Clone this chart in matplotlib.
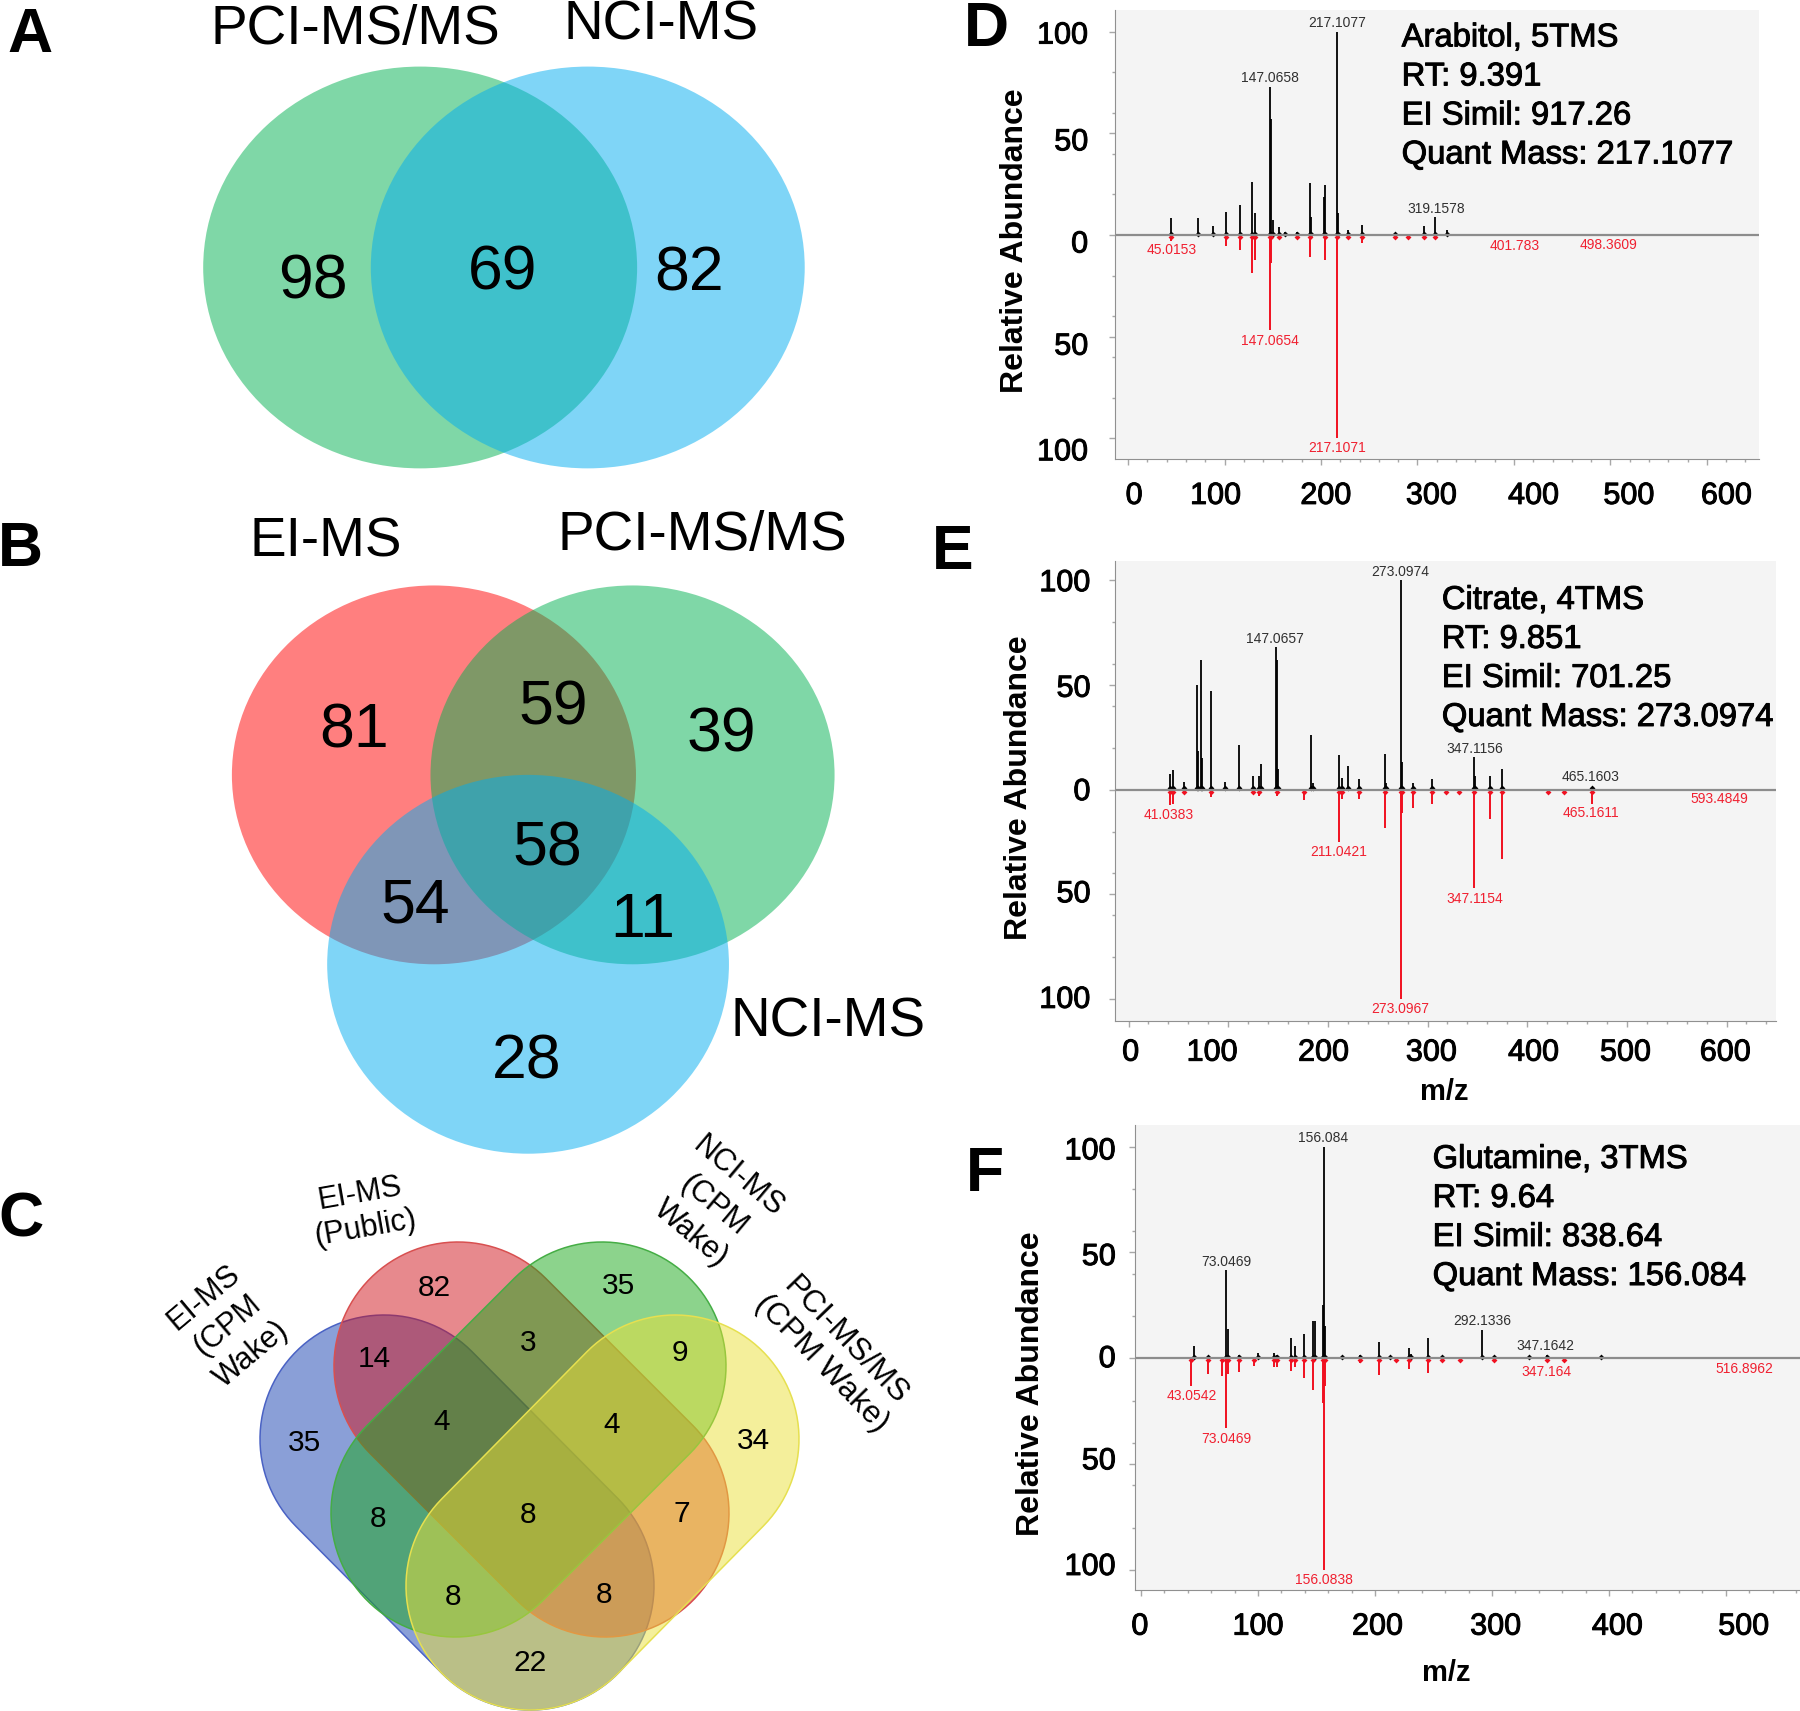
import numpy as np
import matplotlib
matplotlib.use('Agg')
import matplotlib.pyplot as plt
import matplotlib.patheffects as pe
from matplotlib.patches import Ellipse, Polygon

plt.rcParams['font.family'] = ['Liberation Sans', 'DejaVu Sans']

# venn counts
a_counts = ['98', '69', '82']
b_counts = ['81', '59', '39', '58', '54', '11', '28']
c_counts = ['82', '35', '14', '3', '9', '35', '4', '4', '34', '8', '8', '7', '8', '8', '22']

# spectra (m/z and relative abundance)
d_black_mz = [45, 73, 88, 101.5, 116, 128, 132, 147, 148, 150, 157, 163, 175, 189, 190, 203, 204, 217, 218, 227.5, 242.6, 276.6, 306.7, 318.5, 331]
d_black_h = [8.2, 8.2, 4.4, 11.5, 15, 26, 10.7, 73, 57, 7.4, 3.8, 1.6, 1.6, 25.4, 9, 18.9, 24.6, 100, 10.7, 2.5, 4.8, 1.1, 4.6, 9, 2.5]
d_red_mz = [45, 101.5, 116, 128, 132, 147, 148, 157, 175, 189, 204, 217, 227.5, 242.6, 276.6, 290.6, 306.7, 318.5]
d_red_h = [2.8, 5.4, 7.6, 18.9, 12.3, 46.7, 13.9, 1.6, 1.1, 11, 12.3, 100, 0.8, 4, 1.8, 0.8, 0.8, 0.8]
d_black_labels = ['217.1077', '147.0658', '319.1578']
d_black_label_x = [217, 147, 319]
d_black_label_y = [104.4, 77, 13]
d_red_labels = ['45.0153', '147.0654', '217.1071', '401.783', '498.3609']
d_red_label_x = [45, 147, 217, 400.4, 498]
d_red_label_y = [-7.4, -52, -105, -5.2, -4.9]

e_black_mz = [42, 45, 56, 69, 70, 73, 74, 83, 97, 111, 125, 131, 133, 147.6, 148.6, 150, 183, 185, 211, 214.6, 220.5, 231, 257, 258, 273, 274, 285, 304, 346.5, 348, 363, 374.6, 465.4]
e_black_h = [7.3, 9.6, 3.8, 50, 18.6, 62, 15, 47, 3.8, 21.6, 6.4, 6.4, 12.5, 68, 62, 10, 26, 3, 16.5, 5.6, 11.3, 5.2, 17, 3, 100, 13.4, 3, 5.2, 15.6, 6.4, 6.4, 10, 1.2]
e_red_mz = [42, 45, 56, 83, 125, 131, 148.6, 175.7, 211, 214.6, 231, 257, 273, 274, 285, 304, 319, 332, 346.5, 363, 374.6, 420.5, 437, 465.4]
e_red_h = [7.5, 6.6, 0.5, 3.6, 1.9, 3, 2.8, 4.9, 24.9, 4.3, 4.3, 18.4, 100, 11, 8.9, 6.6, 1.4, 1.9, 47, 14, 33, 0.9, 0.9, 6.6]
e_black_labels = ['273.0974', '147.0657', '347.1156', '465.1603']
e_black_label_x = [273, 147, 347, 464]
e_black_label_y = [104.2, 72.2, 19.7, 5.9]
e_red_labels = ['41.0383', '211.0421', '347.1154', '273.0967', '465.1611', '593.4849']
e_red_label_x = [40.5, 211, 347, 273, 464, 593]
e_red_label_y = [-12.3, -29.6, -52, -104.9, -11.3, -4.5]

f_black_mz = [45, 57, 73, 74.6, 84, 100, 114, 116, 128.5, 132, 139, 147, 149, 155.6, 156, 157.5, 172, 187, 203.5, 212.7, 229, 231, 245, 257, 291.4, 301.6, 332, 347, 393]
f_black_h = [6, 0.5, 41.6, 13.8, 1.4, 2.4, 2.4, 1.5, 9.6, 6, 11.4, 17.7, 17.7, 25, 100, 15, 1, 1.4, 7.8, 1, 5, 1.8, 9.6, 0.5, 13.2, 1, 1, 1.4, 1]
f_red_mz = [43, 57, 69, 73, 74.6, 84, 96.7, 114, 116, 128.5, 132, 139, 147, 155.6, 156, 157.5, 187, 203.5, 218, 229, 245, 257, 272.6, 301.6, 347, 362]
f_red_h = [13, 7.6, 8.5, 33, 7.6, 6.7, 3.6, 4, 4, 5.8, 4, 9.4, 15.2, 21, 100, 13, 2.2, 8, 1.8, 4.9, 7.2, 0.7, 1.3, 1.6, 1.3, 0.7]
f_black_labels = ['156.084', '73.0469', '292.1336', '347.1642']
f_black_label_x = [156, 73, 292, 346]
f_black_label_y = [104.2, 45.4, 17.4, 6]
f_red_labels = ['43.0542', '73.0469', '347.164', '156.0838', '516.8962']
f_red_label_x = [43, 73, 347, 156, 515.7]
f_red_label_y = [-17.9, -38, -6.5, -104.8, -4.9]

W, H = 1800, 1711
S = 1800 / 1568  # the positions below were read on the shrunk picture
HEAVY = [pe.withStroke(linewidth=0.7, foreground='black')]

fig = plt.figure(figsize=(W / 100, H / 100), dpi=100, facecolor='white')
ov = fig.add_axes([0, 0, 1, 1], zorder=5)
ov.set_xlim(0, W)
ov.set_ylim(H, 0)
ov.axis('off')


def txt(x, y, s, size, **kw):
    kw.setdefault('ha', 'center')
    kw.setdefault('va', 'center')
    return ov.text(x * S, y * S, s, fontsize=size, **kw)


def circle(cx, cy, rx, ry, color):
    ov.add_patch(Ellipse((cx * S, cy * S), 2 * rx * S, 2 * ry * S, facecolor=color, alpha=0.5, edgecolor='none'))


def capsule(p0, p1, r, color, edge):
    # rounded bar between two circle centres, in full size pixels
    p0 = np.array(p0, float)
    p1 = np.array(p1, float)
    ang = np.arctan2(p1[1] - p0[1], p1[0] - p0[0])
    t0 = np.linspace(ang + np.pi / 2, ang + 3 * np.pi / 2, 60)
    t1 = np.linspace(ang - np.pi / 2, ang + np.pi / 2, 60)
    pts = np.vstack([p0 + r * np.c_[np.cos(t0), np.sin(t0)], p1 + r * np.c_[np.cos(t1), np.sin(t1)]])
    ov.add_patch(Polygon(pts, closed=True, facecolor=color + (0.5,), edgecolor=edge, lw=1.1))


# panel A
circle(366, 233, 189, 175, '#00b150')
circle(512, 233, 189, 175, '#00adf0')
txt(310, 26, 'PCI-MS/MS', 39.5)
txt(576, 22, 'NCI-MS', 39.5)
for s, x, y in zip(a_counts, [273, 438, 600], [246, 238, 239]):
    txt(x, y, s, 45)

# panel B
circle(378, 675, 176, 165, '#ff0000')
circle(551, 675, 176, 165, '#00b150')
circle(460, 840, 175, 165, '#00adf0')
txt(284, 473, 'EI-MS', 39.5)
txt(612, 467, 'PCI-MS/MS', 39.5)
txt(721, 891, 'NCI-MS', 39.5)
for s, x, y in zip(b_counts, [308, 482, 628, 477, 362, 560, 459], [637, 617, 640, 740, 789, 802, 925]):
    txt(x, y, s, 45)

# panel C
capsule((384, 1439), (530, 1586), 124, (0.09, 0.25, 0.69), '#4a62c4')
capsule((458, 1366), (605, 1513), 124, (0.82, 0.08, 0.11), '#d85050')
capsule((602, 1366), (455, 1513), 124, (0.10, 0.66, 0.10), '#45ad45')
capsule((675, 1439), (530, 1586), 124, (0.92, 0.88, 0.22), '#e6e050')
c_x = [378, 539, 326, 460, 592, 265, 385, 533, 656, 329, 460, 594, 395, 526, 462]
c_y = [1122, 1120, 1184, 1170, 1179, 1257, 1239, 1241, 1255, 1323, 1320, 1319, 1391, 1389, 1449]
for s, x, y in zip(c_counts, c_x, c_y):
    txt(x, y, s, 21.5)
txt(198, 1155, 'EI-MS\n(CPM\nWake)', 22, rotation=40, linespacing=1.3)
txt(316, 1055, 'EI-MS\n(Public)', 22, rotation=10, linespacing=1.2)
txt(622, 1050, 'NCI-MS\n(CPM\nWake)', 22, rotation=-40, linespacing=1.3)
txt(726, 1178, 'PCI-MS/MS\n(CPM Wake)', 22.5, rotation=-46, linespacing=1.15)

# panel letters
for s, x, y in zip('ABCDEF', [26, 18, 18, 859, 830, 858], [31, 479, 1063, 26, 481, 1023]):
    txt(x, y, s, 45, fontweight='bold')


def spectrum(rect, xlim, ylim, black, red, black_lab, red_lab):
    left, top, right, bottom = rect
    ax = fig.add_axes([left / W, 1 - bottom / H, (right - left) / W, (bottom - top) / H], facecolor='#f4f4f4')
    ax.set_xlim(*xlim)
    ax.set_ylim(*ylim)
    ax.vlines(black[0], 0, black[1], color='black', lw=1.3)
    ax.vlines(red[0], 0, -np.array(red[1]), color='#f01020', lw=1.4)
    # peaks in the original sit on small blobs at the baseline
    ax.scatter(black[0], np.full(len(black[0]), 0.7), marker='D', s=9, color='black', lw=0)
    ax.scatter(red[0], np.full(len(red[0]), -0.9), marker='D', s=9, color='#f01020', lw=0)
    ax.axhline(0, color='#8c8c8c', lw=1.6)
    for s, x, y in zip(*black_lab):
        ax.text(x, y, s, fontsize=10, color='#303030', ha='center', va='center')
    for s, x, y in zip(*red_lab):
        ax.text(x, y, s, fontsize=10, color='#f02030', ha='center', va='center')
    ax.set_xticks(np.arange(0, xlim[1], 100))
    ax.set_xticks(np.arange(0, xlim[1], 20), minor=True)
    ax.set_yticks([-100, -50, 0, 50, 100])
    ax.set_yticks(np.arange(-100, 101, 20), minor=True)
    ax.tick_params(which='both', direction='out', color='#a8a8a8', labelbottom=False, labelleft=False, width=1)
    ax.tick_params(which='major', length=4)
    ax.tick_params(which='minor', length=2)
    ax.spines['top'].set_visible(False)
    ax.spines['right'].set_visible(False)
    ax.spines['left'].set_color('#909090')
    ax.spines['bottom'].set_color('#909090')
    return ax


spectrum((1115, 10, 1759, 459), (-13.5, 654), (-110.2, 110.7),
         (d_black_mz, d_black_h), (d_red_mz, d_red_h),
         (d_black_labels, d_black_label_x, d_black_label_y), (d_red_labels, d_red_label_x, d_red_label_y))
spectrum((1115, 561, 1776, 1021), (-13.6, 649.6), (-110.5, 109.3),
         (e_black_mz, e_black_h), (e_red_mz, e_red_h),
         (e_black_labels, e_black_label_x, e_black_label_y), (e_red_labels, e_red_label_x, e_red_label_y))
spectrum((1135, 1125, 1800, 1590), (-5.2, 563.4), (-109.5, 110.2),
         (f_black_mz, f_black_h), (f_red_mz, f_red_h),
         (f_black_labels, f_black_label_x, f_black_label_y), (f_red_labels, f_red_label_x, f_red_label_y))

# axis text is placed by hand in the original composite, so it is done here too
ynums = ['100', '50', '0', '50', '100']
for ys, xr, xc, yc in [([31, 124, 213, 302, 394], 948, 884, 210),
                       ([508, 600, 690, 779, 871], 950, 888, 686),
                       ([1003, 1095, 1184, 1273, 1365], 972, 898, 1205)]:
    for s, y in zip(ynums, ys):
        txt(xr, y, s, 22, ha='right', path_effects=HEAVY)
    txt(xc, yc, 'Relative Abundance', 23, fontweight='bold', rotation=90)

for xs, y, labs in [([988, 1059, 1155, 1247, 1336, 1419, 1504], 432, range(0, 700, 100)),
                    ([985, 1056, 1153, 1247, 1336, 1416, 1503], 917, range(0, 700, 100)),
                    ([993, 1096, 1200, 1303, 1409, 1519], 1417, range(0, 600, 100))]:
    for x, s in zip(xs, labs):
        txt(x, y, str(s), 22, path_effects=HEAVY)
txt(1258, 951, 'm/z', 21, fontweight='bold')
txt(1260, 1457, 'm/z', 21, fontweight='bold')

for x, y0, lines in [(1221, 33, ['Arabitol, 5TMS', 'RT: 9.391', 'EI Simil: 917.26', 'Quant Mass: 217.1077']),
                     (1256, 523, ['Citrate, 4TMS', 'RT: 9.851', 'EI Simil: 701.25', 'Quant Mass: 273.0974']),
                     (1248, 1010, ['Glutamine, 3TMS', 'RT: 9.64', 'EI Simil: 838.64', 'Quant Mass: 156.084'])]:
    for i, s in enumerate(lines):
        txt(x, y0 + i * 34, s, 23.6, ha='left', path_effects=HEAVY)

fig.savefig('out.png', dpi=100)
